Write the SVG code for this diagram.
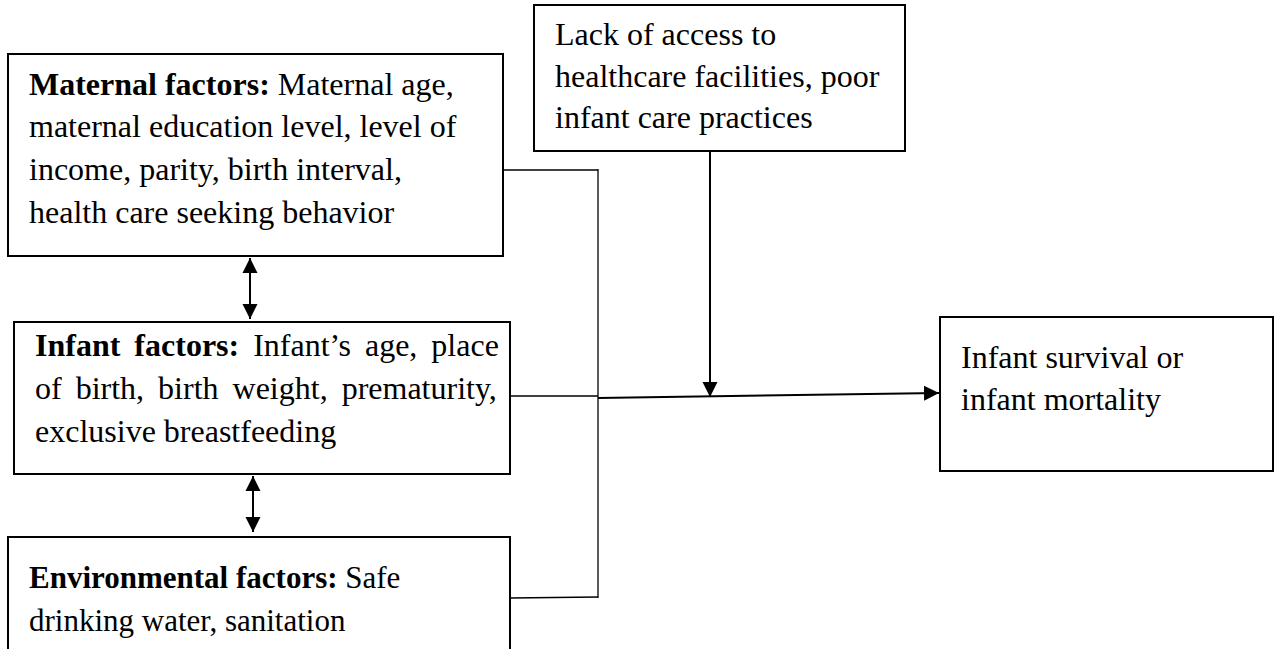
<svg xmlns="http://www.w3.org/2000/svg" width="1275" height="649" viewBox="0 0 1275 649">
<style>
  .box { fill: #ffffff; stroke: #000000; stroke-width: 2; }
  .t { font-family: "Liberation Serif", "Times New Roman", serif; font-size: 32px; fill: #000000; }
  .s31 { font-size: 31px; }
  .b { font-weight: bold; }
  .thin { fill: none; stroke: #000000; stroke-width: 1.3; }
  .arr { fill: none; stroke: #000000; stroke-width: 2; }
</style>
<defs>
  <marker id="ah" viewBox="0 0 10 10" refX="10" refY="5" markerUnits="userSpaceOnUse" markerWidth="15" markerHeight="16" orient="auto-start-reverse">
    <path d="M0,0 L10,5 L0,10 z" fill="#000000"/>
  </marker>
</defs>

<g id="connectors">
  <line class="thin" x1="503" y1="170" x2="598" y2="170"/>
  <line class="thin" x1="598" y1="169" x2="598" y2="598"/>
  <line class="thin" x1="507" y1="396" x2="598" y2="396"/>
  <line class="thin" x1="510" y1="598" x2="598" y2="597"/>
  <line class="arr" x1="598" y1="398" x2="939" y2="393" marker-end="url(#ah)"/>
  <line class="arr" x1="710" y1="151" x2="710" y2="397" marker-end="url(#ah)"/>
  <line class="arr" x1="250" y1="258" x2="250" y2="319" marker-start="url(#ah)" marker-end="url(#ah)"/>
  <line class="arr" x1="253" y1="476" x2="253" y2="532" marker-start="url(#ah)" marker-end="url(#ah)"/>
</g>

<g id="lack">
  <rect class="box" x="534" y="5" width="371" height="146"/>
  <text class="t" x="555" y="45">Lack of access to</text>
  <text class="t" x="555" y="87">healthcare facilities, poor</text>
  <text class="t" x="555" y="128">infant care practices</text>
</g>

<g id="maternal">
  <rect class="box" x="8" y="54" width="495" height="202"/>
  <text class="t" x="29" y="95"><tspan class="b">Maternal factors:</tspan> Maternal age,</text>
  <text class="t" x="29" y="137">maternal education level, level of</text>
  <text class="t" x="29" y="180">income, parity, birth interval,</text>
  <text class="t" x="29" y="223">health care seeking behavior</text>
</g>

<g id="infant">
  <rect class="box" x="14" y="322" width="496" height="152"/>
  <text class="t" x="35" y="356" word-spacing="6"><tspan class="b">Infant factors:</tspan> Infant’s age, place</text>
  <text class="t" x="35" y="399" word-spacing="6">of birth, birth weight, prematurity,</text>
  <text class="t" x="35" y="442">exclusive breastfeeding</text>
</g>

<g id="environmental">
  <rect class="box" x="8" y="537" width="502" height="130"/>
  <text class="t s31" x="29" y="588"><tspan class="b">Environmental factors:</tspan> Safe</text>
  <text class="t s31" x="29" y="631">drinking water, sanitation</text>
</g>

<g id="outcome">
  <rect class="box" x="940" y="317" width="333" height="154"/>
  <text class="t" x="961" y="368">Infant survival or</text>
  <text class="t" x="961" y="410">infant mortality</text>
</g>
</svg>
